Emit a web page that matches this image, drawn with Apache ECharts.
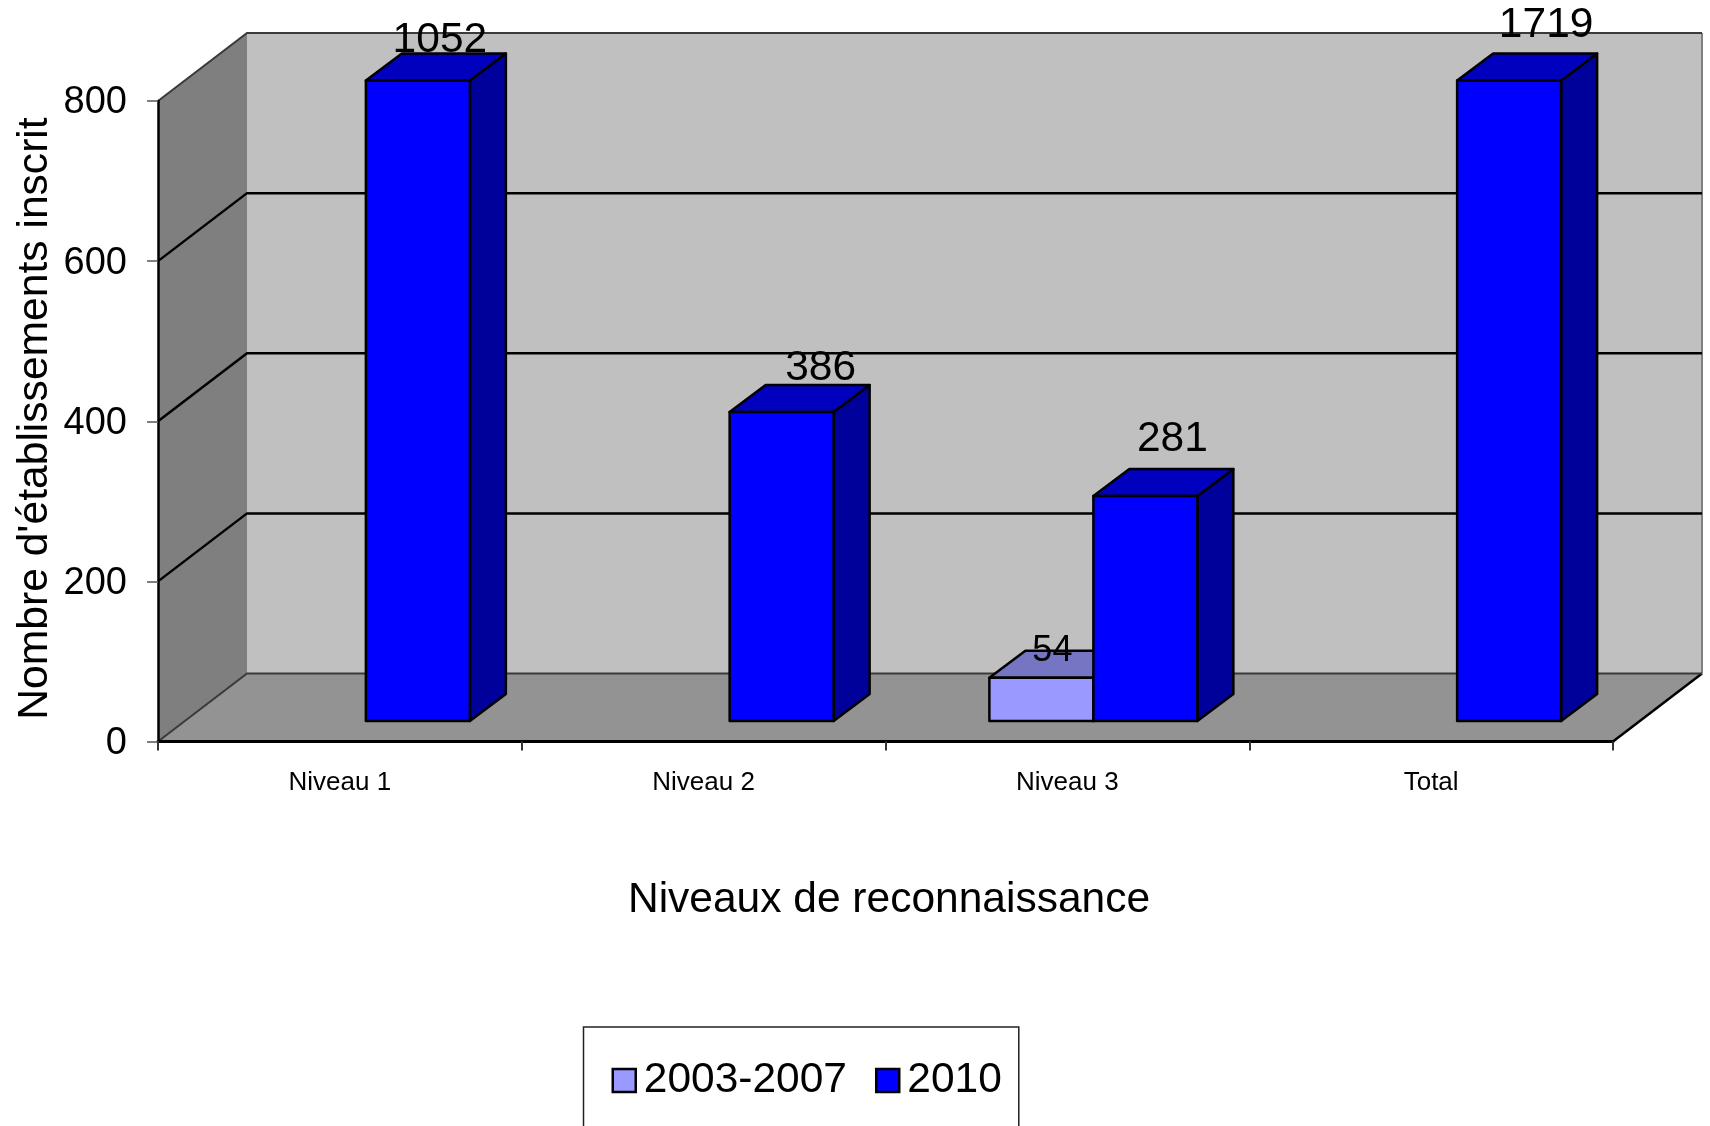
<!DOCTYPE html>
<html>
<head>
<meta charset="utf-8">
<style>html,body{margin:0;padding:0;background:#fff;overflow:hidden}#c{width:1710px;height:1126px}</style>
<script src="https://cdn.jsdelivr.net/npm/echarts@6/dist/echarts.min.js"></script>
</head>
<body>
<div id="c"></div>
<script>
const categories = ['Niveau 1', 'Niveau 2', 'Niveau 3', 'Total'];
const yTicks = [0, 200, 400, 600, 800];
const values2003 = [null, null, 54, null];
const values2010 = [1052, 386, 281, 1719];
const seriesNames = ['2003-2007', '2010'];

const FONT = '"Liberation Sans", Arial, sans-serif';
const AXIS_MAX = 800;
const WALL_DX = 89, WALL_DY = 68;      // depth of the 3D box
const BAR_DX = 26, BAR_DY = 20.5;      // where bars stand on the floor
const DEPTH_DX = 36, DEPTH_DY = 27;    // depth of each bar
const BAR_W = 104;
const labelShift = {                   // hand-placed label offset and size
  '0-2': [11, 0, 36],
  '1-0': [22, 13, 42.5], '1-1': [39, 17, 42.5], '1-2': [27, 30, 42.5], '1-3': [37, 28, 42.5]
};

function toData(values) {
  return values.map((v, i) => [i, v === null ? '-' : v]);
}

function renderWalls(params, api) {
  const c = params.coordSys;
  const l = c.x, r = c.x + c.width, t = c.y, b = c.y + c.height;
  const poly = (pts, fill) => ({ type: 'polygon', shape: { points: pts }, style: { fill: fill, stroke: null } });
  const line = (x1, y1, x2, y2, color, w) => ({ type: 'line', shape: { x1, y1, x2, y2 }, style: { stroke: color, lineWidth: w } });
  return {
    type: 'group',
    children: [
      poly([[l + WALL_DX, t - WALL_DY], [r + WALL_DX, t - WALL_DY], [r + WALL_DX, b - WALL_DY], [l + WALL_DX, b - WALL_DY]], '#C0C0C0'),
      poly([[l, b], [l + WALL_DX, b - WALL_DY], [l + WALL_DX, t - WALL_DY], [l, t]], '#7F7F7F'),
      poly([[l, b], [r, b], [r + WALL_DX, b - WALL_DY], [l + WALL_DX, b - WALL_DY]], '#939393'),
      line(r + WALL_DX, t - WALL_DY, r + WALL_DX, b - WALL_DY, '#808080', 2),
      line(r, b, r + WALL_DX, b - WALL_DY, '#000', 2.5)
    ]
  };
}

function renderGridLine(params, api) {
  const c = params.coordSys;
  const tick = api.value(1);
  const y = api.coord([0, tick])[1];
  const l = c.x, r = c.x + c.width;
  const edge = tick === 0 || tick === AXIS_MAX;
  const color = edge ? '#3a3a3a' : '#000';
  return {
    type: 'polyline',
    shape: { points: [[l, y], [l + WALL_DX, y - WALL_DY], [r + WALL_DX, y - WALL_DY]] },
    style: { stroke: color, lineWidth: edge ? 2 : 2.5, fill: null }
  };
}

function barRenderer(seriesIdx, front, top, side) {
  return function (params, api) {
    const v = api.value(1);
    if (isNaN(v)) return;
    const i = api.value(0);
    const base = api.coord([i, 0]);
    const yTop = api.coord([i, Math.min(v, AXIS_MAX)])[1] - BAR_DY;
    const yBot = base[1] - BAR_DY;
    const x0 = base[0] + BAR_DX + (seriesIdx - 1) * BAR_W;
    const x1 = x0 + BAR_W;
    const stroke = { stroke: '#000', lineWidth: 2.5, lineJoin: 'round' };
    const shift = labelShift[seriesIdx + '-' + i] || [0, 15, 42];
    const cx = (x0 + x1) / 2;
    return {
      type: 'group',
      children: [
        { type: 'polygon', shape: { points: [[x1, yBot], [x1 + DEPTH_DX, yBot - DEPTH_DY], [x1 + DEPTH_DX, yTop - DEPTH_DY], [x1, yTop]] }, style: Object.assign({ fill: side }, stroke) },
        { type: 'polygon', shape: { points: [[x0, yTop], [x1, yTop], [x1 + DEPTH_DX, yTop - DEPTH_DY], [x0 + DEPTH_DX, yTop - DEPTH_DY]] }, style: Object.assign({ fill: top }, stroke) },
        { type: 'rect', shape: { x: x0, y: yTop, width: BAR_W, height: yBot - yTop }, style: Object.assign({ fill: front }, stroke) },
        { type: 'text', style: { text: String(v), x: cx + shift[0], y: yTop - DEPTH_DY - shift[1], align: 'center', verticalAlign: 'middle', fill: '#000', font: shift[2] + 'px ' + FONT } }
      ]
    };
  };
}

const chart = echarts.init(document.getElementById('c'), null, { renderer: 'canvas' });
chart.setOption({
  animation: false,
  backgroundColor: '#fff',
  grid: { left: 158, right: 97, top: 101, bottom: 384.5, containLabel: false, outerBoundsMode: 'none' },
  legend: {
    data: seriesNames,
    left: 583.5,
    top: 1027,
    orient: 'horizontal',
    icon: 'rect',
    itemWidth: 23,
    itemHeight: 23,
    itemGap: 28,
    padding: [32, 17, 28, 28],
    borderColor: '#222',
    borderWidth: 1.5,
    backgroundColor: '#fff',
    selectedMode: false,
    itemStyle: { borderColor: '#000', borderWidth: 2.5 },
    textStyle: { fontFamily: FONT, fontSize: 42.5, color: '#000', padding: [0, 0, 0, 3] }
  },
  xAxis: {
    type: 'category',
    data: categories,
    z: 10,
    name: 'Niveaux de reconnaissance',
    nameLocation: 'middle',
    nameGap: 137,
    nameTextStyle: { fontFamily: FONT, fontSize: 42.5, color: '#000', padding: [0, 0, 0, 7] },
    axisLine: { show: true, lineStyle: { color: '#000', width: 3 } },
    axisTick: { show: true, length: 9, lineStyle: { color: '#333', width: 2 } },
    axisLabel: { fontFamily: FONT, fontSize: 26, color: '#000', margin: 28 }
  },
  yAxis: {
    type: 'value',
    min: 0,
    max: AXIS_MAX,
    interval: 200,
    z: 10,
    name: "Nombre d'établissements inscrit",
    nameLocation: 'middle',
    nameGap: 101,
    nameMoveOverlap: false,
    nameTextStyle: { fontFamily: FONT, fontSize: 42.6, color: '#000', padding: [0, 0, 0, 5.5] },
    splitLine: { show: false },
    axisLine: { show: true, lineStyle: { color: '#000', width: 2.5 } },
    axisTick: { show: true, inside: false, length: 11, lineStyle: { color: '#555', width: 1.5 } },
    axisLabel: { fontFamily: FONT, fontSize: 38, color: '#000', margin: 31, verticalAlign: 'top', lineHeight: 4 }
  },
  series: [
    { type: 'custom', name: 'walls', z: 1, silent: true, data: [[0, 0]], renderItem: renderWalls },
    { type: 'custom', name: 'grid', z: 2, silent: true, data: yTicks.map(t => [0, t]), renderItem: renderGridLine },
    {
      type: 'custom', name: seriesNames[0], z: 3,
      itemStyle: { color: '#9999FF' },
      data: toData(values2003),
      encode: { x: 0, y: 1 },
      renderItem: barRenderer(0, '#9999FF', '#7575C3', '#5C5C99')
    },
    {
      type: 'custom', name: seriesNames[1], z: 4,
      itemStyle: { color: '#0000FF' },
      data: toData(values2010),
      encode: { x: 0, y: 1 },
      renderItem: barRenderer(1, '#0000FF', '#0000BE', '#00009B')
    }
  ]
});
</script>
</body>
</html>
